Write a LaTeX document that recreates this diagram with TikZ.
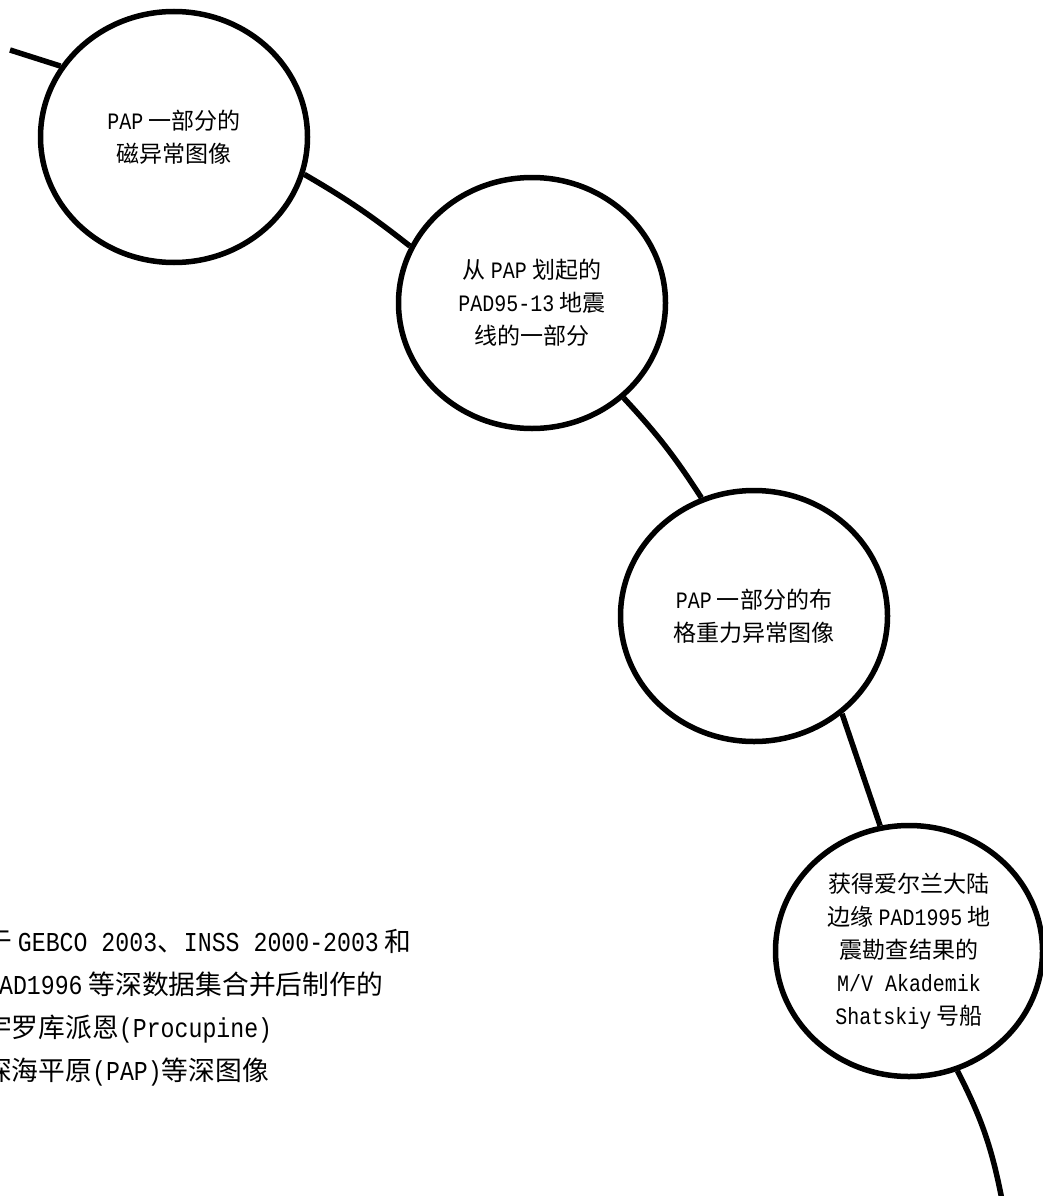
\documentclass[tikz,border=0pt]{standalone}
\usepackage{fontspec}
\setmainfont[FakeStretch=0.85]{Liberation Mono}
\newfontfamily\cjk[Scale=0.98]{Noto Sans CJK SC}
\usetikzlibrary{shapes.geometric}
\newcommand\g{\hspace{0.22em}}
\begin{document}
\begin{tikzpicture}[x=1pt,y=-1pt,
  bubble/.style={ellipse, draw=black, line width=5.5pt, minimum width=267pt,
    minimum height=251pt, inner sep=0pt, align=center,
    font=\fontsize{23.5}{33}\selectfont},
  link/.style={line width=5.5pt, draw=black}]
\useasboundingbox (0,0) rectangle (1042,1196);
\fill[white] (0,0) rectangle (1042,1196);
\node[bubble] (c1) at (174,137) {PAP\g{\cjk 一部分的}\\{\cjk 磁异常图像}};
\node[bubble] (c2) at (532,303) {{\cjk 从}\g PAP\g{\cjk 划起的}\\PAD95-13\g{\cjk 地震}\\{\cjk 线的一部分}};
\node[bubble] (c3) at (754,616) {PAP\g{\cjk 一部分的布}\\{\cjk 格重力异常图像}};
\node[bubble] (c4) at (909,951) {{\cjk 获得爱尔兰大陆}\\{\cjk 边缘}\g PAD1995\g{\cjk 地}\\{\cjk 震勘查结果的}\\M/V Akademik\\Shatskiy\g{\cjk 号船}};
\coordinate (start) at (10,50);
\coordinate (finish) at (1002,1200);
\draw[link] (start) -- (c1.148);
\draw[link] (c1.-16) to[bend left=4] (c2.155);
\draw[link] (c2.-46) to[bend left=5] (c3.114);
\draw[link] (c3.-48) -- (c4.103);
\draw[link] (c4.-68) to[bend left=8] (finish);
\node[anchor=west, align=left, inner sep=0pt, font=\fontsize{27.3}{43}\selectfont] (note) at (-15,1008)
  {{\cjk 于}\g GEBCO 2003{\cjk 、}INSS 2000-2003\g{\cjk 和}\\PAD1996\g{\cjk 等深数据集合并后制作的}\\{\cjk 宇罗库派恩}(Procupine)\\{\cjk 深海平原}(PAP){\cjk 等深图像}};
\end{tikzpicture}
\end{document}
